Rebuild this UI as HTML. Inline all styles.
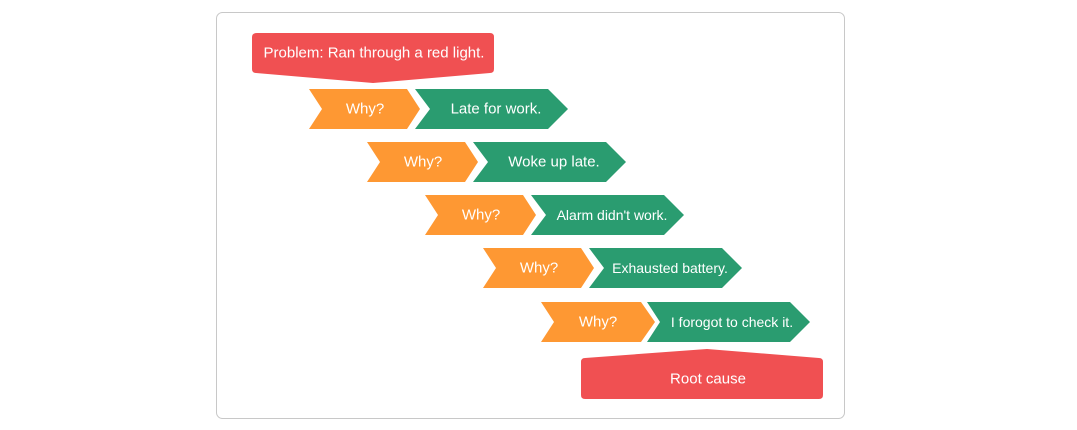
<!DOCTYPE html>
<html><head><style>
html,body{margin:0;padding:0;background:#fff;width:1077px;height:430px;overflow:hidden}
text{font-family:"Liberation Sans",sans-serif;fill:#fff;font-size:15px;text-anchor:middle;dominant-baseline:central}
</style></head><body>
<svg width="1077" height="430" viewBox="0 0 1077 430">
<rect x="216.5" y="12.5" width="628" height="406" rx="6" fill="#fff" stroke="#c8c8c8"/>
<path d="M257,33 H490 Q494,33 494,37 V69 Q494,73 490,73 L373,83 L256,73 Q252,73 252,69 V37 Q252,33 257,33Z" fill="#f05052"/>
<text x="374" y="53">Problem: Ran through a red light.</text>
<g id="r">
</g>
<path d="M309,89 H407 L420,109 L407,129 H309 L322,109Z" fill="#fe9833"/>
<path d="M415,89 H548 L568,109 L548,129 H415 L430,109Z" fill="#2a9c70"/>
<text x="365" y="109">Why?</text><text x="496" y="109">Late for work.</text>

<path d="M367,142 H465 L478,162 L465,182 H367 L380,162Z" fill="#fe9833"/>
<path d="M473,142 H606 L626,162 L606,182 H473 L488,162Z" fill="#2a9c70"/>
<text x="423" y="162">Why?</text><text x="554" y="162">Woke up late.</text>

<path d="M425,195 H523 L536,215 L523,235 H425 L438,215Z" fill="#fe9833"/>
<path d="M531,195 H664 L684,215 L664,235 H531 L546,215Z" fill="#2a9c70"/>
<text x="481" y="215">Why?</text><text x="612" y="215" style="font-size:14px">Alarm didn't work.</text>

<path d="M483,248 H581 L594,268 L581,288 H483 L496,268Z" fill="#fe9833"/>
<path d="M589,248 H722 L742,268 L722,288 H589 L604,268Z" fill="#2a9c70"/>
<text x="539" y="268">Why?</text><text x="670" y="268" style="font-size:14px">Exhausted battery.</text>

<path d="M541,302 H641 L655,322 L641,342 H541 L554,322Z" fill="#fe9833"/>
<path d="M647,302 H790 L810,322 L790,342 H647 L660,322Z" fill="#2a9c70"/>
<text x="598" y="322">Why?</text><text x="732" y="322" style="font-size:14px">I forogot to check it.</text>

<path d="M585,358 L707,349 L819,358 Q823,358 823,362 V395 Q823,399 819,399 H585 Q581,399 581,395 V362 Q581,358 585,358Z" fill="#f05052"/>
<text x="708" y="379">Root cause</text>
</svg>
</body></html>
